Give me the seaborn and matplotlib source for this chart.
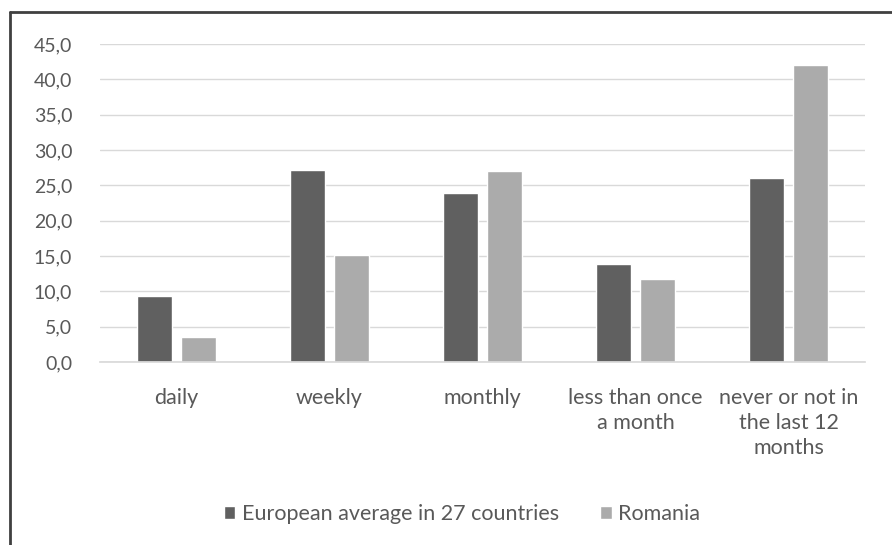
import pandas as pd
import matplotlib.pyplot as plt
import seaborn as sns
from matplotlib.lines import Line2D
from matplotlib.ticker import FuncFormatter

# Data
categories = ['daily', 'weekly', 'monthly', 'less than once\na month',
              'never or not in\nthe last 12\nmonths']
eu_values = [9.3, 27.2, 23.9, 13.9, 26.0]
ro_values = [3.5, 15.1, 27.0, 11.7, 42.1]
series = ['European average in 27 countries', 'Romania']

df = pd.DataFrame({
    'category': categories * 2,
    'value': eu_values + ro_values,
    'series': [series[0]] * len(categories) + [series[1]] * len(categories),
})

sns.set_theme(style='white')
plt.rcParams['font.family'] = ['Lato', 'DejaVu Sans']
text_color = '#595959'

fig = plt.figure(figsize=(8.92, 5.45), dpi=100)
ax = fig.add_axes([0.112, 0.336, 0.858, 0.583])

sns.barplot(data=df, x='category', y='value', hue='series',
            palette=['#606060', '#ababab'], width=0.575, gap=0.2,
            saturation=1, ax=ax)

ax.set_ylim(0, 45)
ax.set_yticks(range(0, 50, 5))
ax.yaxis.set_major_formatter(FuncFormatter(lambda v, p: f'{v:.1f}'.replace('.', ',')))
ax.grid(axis='y', color='#d9d9d9', linewidth=1)
ax.set_axisbelow(True)
for s in ['top', 'right', 'left']:
    ax.spines[s].set_visible(False)
ax.spines['bottom'].set_color('#d9d9d9')
ax.set_xlabel('')
ax.set_ylabel('')
ax.tick_params(axis='y', length=0, labelsize=14, colors=text_color, pad=20)
ax.tick_params(axis='x', length=0, labelsize=15.5, colors=text_color, pad=19)
for lbl in ax.get_xticklabels():
    lbl.set_linespacing(1.3)

ax.legend(loc='center', bbox_to_anchor=(0.473, -0.479), ncol=2,
          frameon=False, fontsize=15.5, handlelength=0.55, handleheight=0.55,
          columnspacing=1.9, handletextpad=0.3, labelcolor=text_color)

# outer frame (top and left edges visible in the reference)
fig.add_artist(Line2D([10 / 892, 1], [1 - 12 / 545, 1 - 12 / 545],
                      color='#404040', linewidth=2))
fig.add_artist(Line2D([10 / 892, 10 / 892], [0, 1 - 12 / 545],
                      color='#404040', linewidth=2))

fig.savefig('out.png', dpi=100)
